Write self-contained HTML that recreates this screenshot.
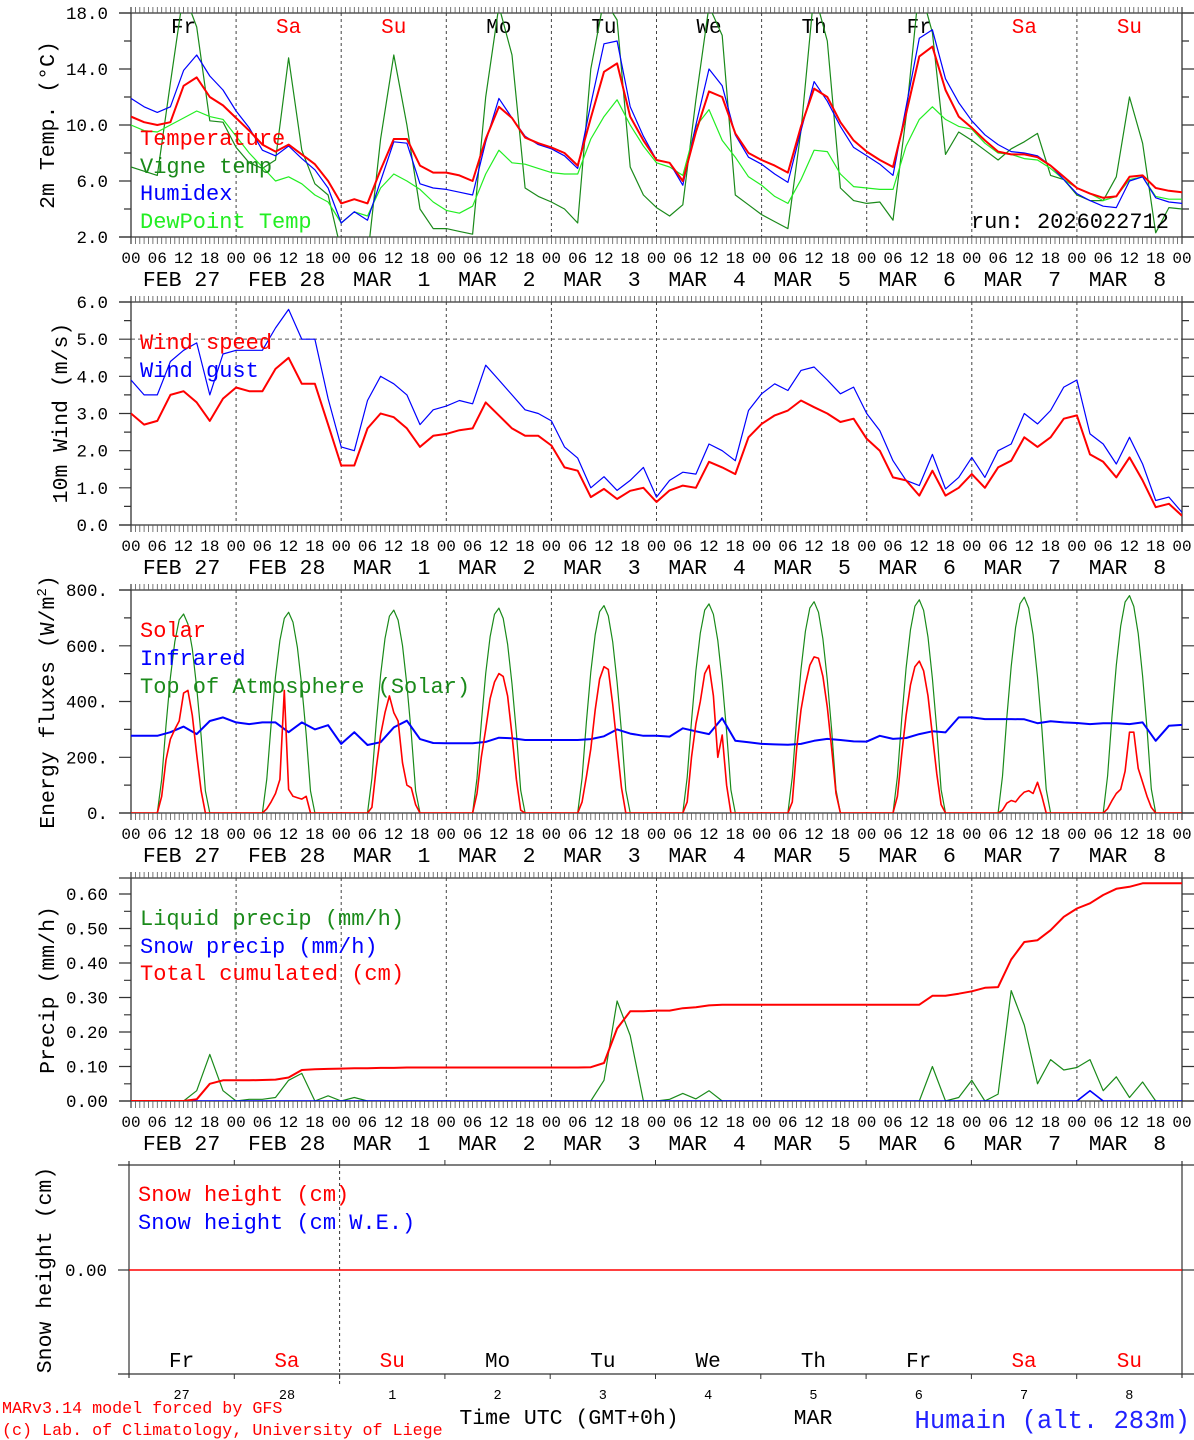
<!DOCTYPE html>
<html><head><meta charset="utf-8">
<style>
html,body{margin:0;padding:0;background:#fff;}
svg{display:block;}
text{font-family:"Liberation Mono","DejaVu Sans Mono",monospace;}
</style></head>
<body>
<svg id="chart" width="1194" height="1440" viewBox="0 0 1194 1440" xmlns="http://www.w3.org/2000/svg">
<defs>
<clipPath id="c1"><rect x="131" y="13" width="1051" height="224"/></clipPath>
<clipPath id="c2"><rect x="131" y="302" width="1051" height="223"/></clipPath>
<clipPath id="c3"><rect x="131" y="590" width="1051" height="223"/></clipPath>
<clipPath id="c4"><rect x="131" y="878" width="1051" height="223"/></clipPath>
</defs>
<g id="frames"></g>
<g id="series"></g>
<g font-size="21.5" fill="#000">
<text transform="translate(54,125) rotate(-90)" text-anchor="middle">2m Temp. (°C)</text>
<text transform="translate(67,413) rotate(-90)" text-anchor="middle">10m Wind (m/s)</text>
<text transform="translate(54,702) rotate(-90)" text-anchor="middle">Energy fluxes (W/m<tspan dy="-8" font-size="14">2</tspan><tspan dy="8">)</tspan></text>
<text transform="translate(54,990) rotate(-90)" text-anchor="middle">Precip (mm/h)</text>
<text transform="translate(51,1270) rotate(-90)" text-anchor="middle">Snow height (cm)</text>
</g>
<g font-size="22">
<text x="140" y="145" fill="#ff0000">Temperature</text>
<text x="140" y="173" fill="#1a8a1a">Vigne temp</text>
<text x="140" y="200" fill="#0000ff">Humidex</text>
<text x="140" y="228" fill="#22ee22">DewPoint Temp</text>
<text x="1169" y="228" fill="#000" text-anchor="end">run: 2026022712</text>
<text x="140" y="349" fill="#ff0000">Wind speed</text>
<text x="140" y="377" fill="#0000ff">Wind gust</text>
<text x="140" y="637" fill="#ff0000">Solar</text>
<text x="140" y="665" fill="#0000ff">Infrared</text>
<text x="140" y="693" fill="#1a8a1a">Top of Atmosphere (Solar)</text>
<text x="140" y="925" fill="#1a8a1a">Liquid precip (mm/h)</text>
<text x="140" y="953" fill="#0000ff">Snow precip (mm/h)</text>
<text x="140" y="980" fill="#ff0000">Total cumulated (cm)</text>
<text x="138" y="1201" fill="#ff0000">Snow height (cm)</text>
<text x="138" y="1229" fill="#0000ff">Snow height (cm W.E.)</text>
</g>
<g>
<text x="2" y="1413" font-size="16.7" fill="#ff0000">MARv3.14 model forced by GFS</text>
<text x="2" y="1435" font-size="16.7" fill="#ff0000">(c) Lab. of Climatology, University of Liege</text>
<text x="569" y="1424" font-size="21.5" fill="#000" text-anchor="middle">Time UTC (GMT+0h)</text>
<text x="813" y="1424" font-size="21.5" fill="#000" text-anchor="middle">MAR</text>
<text x="1190" y="1428" font-size="25.5" fill="#2222ff" text-anchor="end">Humain (alt. 283m)</text>
</g>
</svg>
<script>
const dayNames = ["Fr","Sa","Su","Mo","Tu","We","Th","Fr","Sa","Su"];
const dayNameRed = [false,true,true,false,false,false,false,false,true,true];
const dateLabels = ["FEB 27","FEB 28","MAR  1","MAR  2","MAR  3","MAR  4","MAR  5","MAR  6","MAR  7","MAR  8"];
const dayNumbers = ["27","28","1","2","3","4","5","6","7","8"];
const hourLabels = ["00","06","12","18"];

const tempT = [10.6,10.2,10.0,10.2,12.8,13.4,12.0,11.4, 10.5,9.6,8.6,8.1,8.6,7.9,7.2,6.0, 4.4,4.7,4.4,6.8,9.0,9.0,7.1,6.6, 6.6,6.4,6.0,9.0,11.3,10.5,9.1,8.7, 8.4,8.0,7.1,10.5,13.8,14.4,10.6,8.9, 7.5,7.3,6.0,9.5,12.4,12.0,9.4,8.0, 7.5,7.1,6.6,9.9,12.6,12.0,10.2,8.9, 8.1,7.5,7.0,10.8,14.9,15.6,12.5,10.6, 9.8,8.9,8.1,7.9,7.9,7.7,7.1,6.3, 5.5,5.1,4.8,4.9,6.3,6.4,5.5,5.3,5.2];
const tempVigne = [7.0,6.7,6.4,13.0,19.5,17.0,10.3,10.2, 8.4,7.3,6.9,7.5,14.8,8.2,5.8,5.0, 1.0,2.0,0.5,9.0,15.0,10.0,4.0,2.6, 2.6,2.4,2.2,12.0,18.5,15.0,5.5,4.9, 4.5,4.0,3.0,14.0,19.0,17.5,7.0,5.0, 4.1,3.5,4.3,11.8,18.5,16.4,5.0,4.3, 3.6,3.1,2.6,9.6,19.5,16.0,5.5,4.6, 4.4,4.5,3.2,10.6,20.0,16.6,7.9,9.5, 8.9,8.2,7.5,8.3,8.8,9.4,6.4,6.1, 5.0,4.6,4.6,6.3,12.0,8.7,2.3,4.1,4.0];
const tempHumidex = [11.9,11.3,10.9,11.3,13.9,15.0,13.5,12.5, 11.0,9.8,8.2,7.8,8.5,7.6,6.8,5.5, 3.0,3.8,3.2,6.0,8.8,8.7,5.8,5.5, 5.4,5.2,5.0,8.8,11.9,10.5,9.2,8.6, 8.3,7.8,6.9,11.5,15.8,16.0,11.3,9.2, 7.5,7.3,5.7,10.0,14.0,12.8,9.3,7.7, 7.2,6.5,5.9,9.6,13.1,11.7,9.9,8.4, 7.8,7.2,6.4,11.3,16.2,16.8,13.3,11.6, 10.3,9.3,8.6,8.1,8.0,7.8,7.1,6.1, 5.1,4.6,4.2,4.1,6.0,6.3,4.8,4.5,4.4];
const tempDew = [10.0,9.6,9.5,10.0,10.5,11.0,10.6,10.4, 9.2,8.0,7.0,6.0,6.3,5.8,5.0,4.5, 3.0,3.8,3.5,5.5,6.5,6.0,5.4,4.5, 3.9,3.7,4.2,6.5,8.2,7.3,7.2,6.9, 6.6,6.5,6.5,9.0,10.6,11.8,10.0,8.5, 7.3,7.0,6.4,9.9,11.1,8.9,7.7,6.3, 5.7,4.9,4.4,6.1,8.2,8.1,6.5,5.6, 5.5,5.4,5.4,8.5,10.4,11.3,10.4,9.9, 9.7,8.7,8.0,7.9,7.6,7.5,6.9,6.1, 5.5,5.1,4.6,4.9,6.1,6.3,4.9,4.7,4.7];

const windSpeed = [3.0,2.7,2.8,3.5,3.6,3.3,2.8,3.4, 3.7,3.6,3.6,4.2,4.5,3.8,3.8,2.7, 1.6,1.6,2.6,3.0,2.9,2.6,2.1,2.4, 2.45,2.55,2.6,3.3,2.95,2.6,2.4,2.4, 2.14,1.55,1.46,0.75,0.97,0.7,0.92,1.0, 0.62,0.93,1.06,1.0,1.7,1.55,1.37,2.36, 2.72,2.95,3.08,3.35,3.17,3.0,2.77,2.86, 2.32,2.0,1.28,1.2,0.79,1.46,0.79,1.0, 1.37,1.0,1.55,1.73,2.36,2.1,2.36,2.86, 2.95,1.9,1.7,1.28,1.82,1.2,0.48,0.57,0.25];
const windGust = [3.9,3.5,3.5,4.4,4.7,4.9,3.5,4.6, 4.7,4.7,4.7,5.3,5.8,5.0,5.0,3.4, 2.1,2.0,3.35,4.0,3.8,3.5,2.7,3.1, 3.2,3.35,3.26,4.3,3.9,3.5,3.1,3.0, 2.8,2.1,1.8,1.0,1.3,0.93,1.2,1.55, 0.75,1.2,1.42,1.37,2.18,2.0,1.73,3.08, 3.53,3.8,3.62,4.16,4.25,3.9,3.53,3.71, 3.0,2.54,1.73,1.2,1.06,1.9,0.97,1.28, 1.82,1.28,2.0,2.18,3.0,2.72,3.08,3.71, 3.9,2.45,2.18,1.64,2.36,1.64,0.66,0.75,0.34];

const infrared = [277,277,277,290,310,283,330,343, 325,319,325,325,290,325,300,315, 248,290,244,254,307,331,265,251, 250,250,250,255,270,268,262,262, 262,262,262,265,275,300,285,277, 277,274,304,293,283,340,259,254, 248,246,245,248,259,266,262,257, 256,277,266,269,283,293,289,343, 343,337,337,337,336,322,329,325, 323,319,322,322,319,325,259,313,316];
const daylightHours = [7,8,9,10,11,12,13,14,15,16,17];
const solarByDay = [
 [60,190,265,300,330,430,440,350,210,80,0],
 [15,40,70,120,440,85,60,55,50,60,0],
 [20,160,280,360,420,360,330,180,100,90,30],
 [70,200,300,410,470,500,490,420,280,120,10],
 [40,130,230,370,480,525,515,390,240,90,0],
 [40,200,320,400,500,530,420,200,280,100,0],
 [40,230,370,460,530,560,555,490,380,230,70],
 [60,210,350,460,525,545,510,420,280,140,30],
 [10,35,45,40,60,75,80,70,110,60,0],
 [15,44,70,85,150,290,290,160,110,60,20]];
const toaByDay = [
 [121,314,486,614,693,714,678,589,450,278,79],
 [122,317,490,619,698,720,684,594,454,281,79],
 [124,320,495,626,706,728,692,601,459,284,80],
 [125,323,500,632,713,735,698,606,463,287,81],
 [126,327,506,640,722,744,707,614,469,290,82],
 [128,330,510,645,728,750,713,619,473,293,83],
 [129,334,515,652,735,758,720,625,478,296,83],
 [130,337,520,658,742,765,727,631,482,298,84],
 [132,341,526,666,751,774,735,639,488,302,85],
 [133,343,530,671,757,780,741,644,491,304,86]];

const precipCum = [0,0,0,0,0,0.005,0.05,0.06, 0.06,0.06,0.061,0.062,0.068,0.09,0.092,0.093, 0.094,0.095,0.095,0.096,0.096,0.097,0.097,0.097, 0.097,0.097,0.097,0.097,0.097,0.097,0.097,0.097, 0.097,0.097,0.097,0.098,0.11,0.21,0.26,0.26, 0.262,0.262,0.269,0.272,0.277,0.279,0.279,0.279, 0.279,0.279,0.279,0.279,0.279,0.279,0.279,0.279, 0.279,0.279,0.279,0.279,0.279,0.305,0.305,0.311, 0.318,0.328,0.33,0.41,0.461,0.466,0.495,0.534, 0.558,0.573,0.597,0.615,0.621,0.631,0.631,0.631,0.631];
const precipLiquid = [0,0,0,0,0,0.03,0.135,0.03, 0,0.005,0.005,0.01,0.06,0.08,0,0.015, 0,0.01,0,0,0,0,0,0, 0,0,0,0,0,0,0,0, 0,0,0,0,0.06,0.29,0.19,0, 0,0.005,0.022,0.006,0.03,0,0,0, 0,0,0,0,0,0,0,0, 0,0,0,0,0,0.1,0,0.01, 0.06,0,0.02,0.32,0.22,0.05,0.12,0.09, 0.097,0.12,0.03,0.07,0.01,0.055,0,0,0];
const precipSnow = [0,0,0,0,0,0,0,0, 0,0,0,0,0,0,0,0, 0,0,0,0,0,0,0,0, 0,0,0,0,0,0,0,0, 0,0,0,0,0,0,0,0, 0,0,0,0,0,0,0,0, 0,0,0,0,0,0,0,0, 0,0,0,0,0,0,0,0, 0,0,0,0,0,0,0,0, 0,0.03,0,0,0,0,0,0,0];
const snowHeight = [0,0,0,0,0,0,0,0,0,0,0];

const tempTicks = ["2.0","6.0","10.0","14.0","18.0"];
const windTicks = ["0.0","1.0","2.0","3.0","4.0","5.0","6.0"];
const energyTicks = ["0.","200.","400.","600.","800."];
const precipTicks = ["0.00","0.10","0.20","0.30","0.40","0.50","0.60"];

const NS = "http://www.w3.org/2000/svg";
const X0 = 131, X1 = 1182, HOURS = 240;
function xh(h){ return X0 + h*(X1-X0)/HOURS; }
function mk(tag, attrs, parent){
  const e = document.createElementNS(NS, tag);
  for (const k in attrs) e.setAttribute(k, attrs[k]);
  parent.appendChild(e); return e;
}
const frames = document.getElementById("frames");
const series = document.getElementById("series");

const panels = [
 {top:13, bot:237, min:2, max:18, clip:"c1", ticks:tempTicks, major:4, minor:2, dayTop:true},
 {top:302, bot:525, min:0, max:6, clip:"c2", ticks:windTicks, major:1, minor:0.5},
 {top:590, bot:813, min:0, max:800, clip:"c3", ticks:energyTicks, major:200, minor:100},
 {top:878, bot:1101, min:0, max:0.6*(1101-878)/(1101-894), clip:"c4", ticks:precipTicks, major:0.1, minor:0.05}
];
function yv(p, v){ return p.bot - (v-p.min)/(p.max-p.min)*(p.bot-p.top); }

panels.forEach((p, pi) => {
  const g = mk("g", {}, frames);
  
  
  for (let d=1; d<10; d++){
    const l = mk("line", {x1:xh(d*24), x2:xh(d*24), y1:p.top, y2:p.bot, stroke:"#444", "stroke-width":1, "stroke-dasharray":"3,3"}, g);
    
    
  }
  if (pi === 1){
    const l = mk("line", {x1:X0, x2:X1, y1:yv(p,5), y2:yv(p,5), stroke:"#555", "stroke-width":1, "stroke-dasharray":"4,3"}, g);
    
    
  }
  mk("line", {x1:119, x2:1194, y1:p.top, y2:p.top, stroke:"#333", "stroke-width":1.3}, g);
  mk("line", {x1:119, x2:1194, y1:p.bot, y2:p.bot, stroke:"#333", "stroke-width":1.3}, g);
  mk("line", {x1:X0, x2:X0, y1:p.top-6, y2:p.bot+7, stroke:"#333", "stroke-width":1.3}, g);
  mk("line", {x1:X1, x2:X1, y1:p.top-6, y2:p.bot+7, stroke:"#333", "stroke-width":1.3}, g);
  let d = "";
  for (let h=0; h<=HOURS; h++){
    const x = xh(h).toFixed(1);
    d += `M${x},${p.top}v-6M${x},${p.bot}v7`;
  }
  mk("path", {d:d, stroke:"#555", "stroke-width":0.8, fill:"none"}, g);
  const nMin = Math.round((p.max-p.min)/p.minor);
  let dt = "";
  for (let i=0;i<=nMin;i++){
    const v = p.min + i*p.minor; const y = yv(p,v);
    if (y < p.top-0.5) break;
    const isMaj = Math.abs(((v-p.min)/p.major) - Math.round((v-p.min)/p.major)) < 1e-6;
    const len = isMaj ? 12 : 7;
    dt += `M${X0},${y.toFixed(1)}h-${len}M${X1},${y.toFixed(1)}h${len}`;
  }
  mk("path", {d:dt, stroke:"#333", "stroke-width":1.2, fill:"none"}, g);
  p.ticks.forEach((lab, i) => {
    const t = mk("text", {x:108, y:yv(p, p.min + i*p.major)+6, "font-size":17.5, "text-anchor":"end", fill:"#000"}, g);
    t.textContent = lab;
    
    
  });
  for (let h=0; h<=HOURS; h+=6){
    const t = mk("text", {x:xh(h), y:p.bot+26, "font-size":16, "text-anchor":"middle", fill:"#000"}, g);
    t.textContent = hourLabels[(h/6)%4];
    
    
  }
  dateLabels.forEach((lab, i) => {
    const t = mk("text", {x:xh(i*24+12)-2, y:p.bot+49, "font-size":21.5, "text-anchor":"middle", fill:"#000"}, g);
    t.setAttribute("style","white-space:pre");
    t.textContent = lab;
    
    
  });
  if (p.dayTop){
    dayNames.forEach((n, i) => {
      const t = mk("text", {x:xh(i*24+12), y:p.top+20, "font-size":21, "text-anchor":"middle", fill: dayNameRed[i] ? "#ff0000" : "#000"}, g);
      t.textContent = n;
      
      
    });
  }
});

function line3h(p, vals, color, w, name){
  const pts = vals.map((v,i) => xh(i*3).toFixed(1) + "," + yv(p,v).toFixed(1)).join(" ");
  const el = mk("polyline", {points:pts, fill:"none", stroke:color, "stroke-width":w, "stroke-linejoin":"round", "clip-path":"url(#"+p.clip+")"}, series);
  
  
}
function lineDaylight(p, byDay, color, w, name){
  const pts = [];
  byDay.forEach((vals, d) => {
    pts.push(xh(d*24 + daylightHours[0]-1).toFixed(1) + "," + yv(p,0).toFixed(1));
    vals.forEach((v,k) => pts.push(xh(d*24+daylightHours[k]).toFixed(1) + "," + yv(p,v).toFixed(1)));
    pts.push(xh(d*24 + daylightHours[daylightHours.length-1]+1).toFixed(1) + "," + yv(p,0).toFixed(1));
  });
  pts.unshift(xh(0).toFixed(1) + "," + yv(p,0).toFixed(1));
  pts.push(xh(HOURS).toFixed(1) + "," + yv(p,0).toFixed(1));
  const el = mk("polyline", {points:pts.join(" "), fill:"none", stroke:color, "stroke-width":w, "stroke-linejoin":"round", "clip-path":"url(#"+p.clip+")"}, series);
  
  
}

line3h(panels[0], tempVigne, "#1a8a1a", 1.2, "vigne-temp-line");
line3h(panels[0], tempDew, "#22ee22", 1.2, "dewpoint-line");
line3h(panels[0], tempHumidex, "#0000ff", 1.2, "humidex-line");
line3h(panels[0], tempT, "#ff0000", 2, "temperature-line");

line3h(panels[1], windGust, "#0000ff", 1.2, "wind-gust-line");
line3h(panels[1], windSpeed, "#ff0000", 2, "wind-speed-line");

lineDaylight(panels[2], toaByDay, "#1a8a1a", 1.2, "toa-solar-line");
line3h(panels[2], infrared, "#0000ff", 2, "infrared-line");
lineDaylight(panels[2], solarByDay, "#ff0000", 1.6, "solar-line");

line3h(panels[3], precipLiquid, "#1a8a1a", 1.2, "liquid-precip-line");
line3h(panels[3], precipSnow, "#0000ff", 1.6, "snow-precip-line");
line3h(panels[3], precipCum, "#ff0000", 2, "cumulated-precip-line");

(function(){
  const S0 = 129, S1 = 1182, top = 1165, bot = 1374, yZero = 1270;
  const sx = h => S0 + h*(S1-S0)/HOURS;
  const g = mk("g", {}, frames);
  
  
  mk("line", {x1:118, x2:1194, y1:top, y2:top, stroke:"#333", "stroke-width":1.2}, g);
  mk("line", {x1:118, x2:1194, y1:bot, y2:bot, stroke:"#333", "stroke-width":1.2}, g);
  mk("line", {x1:S0, x2:S0, y1:top-4, y2:bot+4, stroke:"#333", "stroke-width":1.2}, g);
  mk("line", {x1:S1, x2:S1, y1:top-4, y2:bot+4, stroke:"#333", "stroke-width":1.2}, g);
  mk("line", {x1:118, x2:S0, y1:yZero, y2:yZero, stroke:"#333", "stroke-width":1.2}, g);
  mk("line", {x1:S1, x2:1194, y1:yZero, y2:yZero, stroke:"#333", "stroke-width":1.2}, g);
  const dl = mk("line", {x1:sx(48), x2:sx(48), y1:top, y2:bot+12, stroke:"#333", "stroke-width":1, "stroke-dasharray":"3,3"}, g);
  
  
  let d = "";
  for (let k=1;k<10;k++){ const x=sx(k*24).toFixed(1); d += `M${x},${top}v-5M${x},${bot}v5`; }
  mk("path", {d:d, stroke:"#333", "stroke-width":1, fill:"none"}, g);
  const t0 = mk("text", {x:107, y:yZero+6, "font-size":17.5, "text-anchor":"end", fill:"#000"}, g);
  t0.textContent = "0.00";
  
  
  dayNames.forEach((n,i) => {
    const t = mk("text", {x:sx(i*24+12), y:1367, "font-size":21, "text-anchor":"middle", fill: dayNameRed[i] ? "#ff0000" : "#000"}, g);
    t.textContent = n;
    
    
    const t2 = mk("text", {x:sx(i*24+12), y:1399, "font-size":13.5, "text-anchor":"middle", fill:"#000"}, g);
    t2.textContent = dayNumbers[i];
    
    
  });
  const pts = snowHeight.map((v,i) => sx(i*24).toFixed(1) + "," + (yZero - v*100).toFixed(1)).join(" ");
  const el = mk("polyline", {points:pts, fill:"none", stroke:"#ff0000", "stroke-width":1.6}, series);
  
  
})();
</script>
</body></html>
